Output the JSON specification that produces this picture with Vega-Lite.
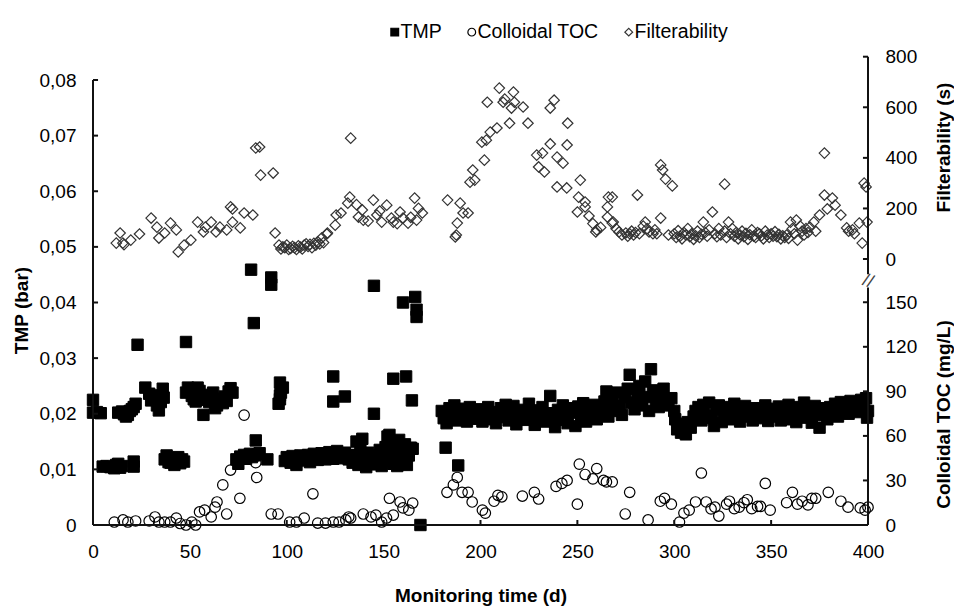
{
"$schema":"https://vega.github.io/schema/vega-lite/v6.json",
"width":775,"height":469,
"autosize":"none",
"padding":{"left":93,"top":56,"right":86,"bottom":90},
"background":"white",
"config":{"view":{"stroke":null},"font":"Liberation Sans",
"axis":{"grid":false,"domain":false,"ticks":false,"labelFont":"Liberation Sans","labelFontSize":19,"labelColor":"black","titleFont":"Liberation Sans","titleFontSize":19,"titleFontWeight":"bold","titleColor":"black","labelPadding":17,"labelFlush":false}},
"datasets":{
"tmp":[
{"s":"TMP","d":0,"v":0.0225},{"s":"TMP","d":0,"v":0.0202},{"s":"TMP","d":2,"v":0.0203},{"s":"TMP","d":4,"v":0.0201},
{"s":"TMP","d":5,"v":0.0105},{"s":"TMP","d":7,"v":0.0106},{"s":"TMP","d":9,"v":0.0104},{"s":"TMP","d":11,"v":0.0102},{"s":"TMP","d":12,"v":0.0108},{"s":"TMP","d":13,"v":0.011},{"s":"TMP","d":14,"v":0.0103},{"s":"TMP","d":15,"v":0.0106},{"s":"TMP","d":21,"v":0.0114},{"s":"TMP","d":21,"v":0.0105},
{"s":"TMP","d":13,"v":0.0202},{"s":"TMP","d":15,"v":0.0204},{"s":"TMP","d":16,"v":0.0199},{"s":"TMP","d":17,"v":0.0195},{"s":"TMP","d":18,"v":0.0198},{"s":"TMP","d":19,"v":0.0205},{"s":"TMP","d":20,"v":0.0208},{"s":"TMP","d":21,"v":0.0212},{"s":"TMP","d":22,"v":0.0218},{"s":"TMP","d":23,"v":0.0324},
{"s":"TMP","d":27,"v":0.0247},{"s":"TMP","d":29,"v":0.0236},{"s":"TMP","d":30,"v":0.0224},{"s":"TMP","d":32,"v":0.0233},{"s":"TMP","d":33,"v":0.0215},{"s":"TMP","d":34,"v":0.0206},{"s":"TMP","d":35,"v":0.0221},{"s":"TMP","d":36,"v":0.0245},{"s":"TMP","d":36.5,"v":0.0229},
{"s":"TMP","d":37,"v":0.0118},{"s":"TMP","d":38,"v":0.0125},{"s":"TMP","d":39,"v":0.0113},{"s":"TMP","d":40,"v":0.0112},{"s":"TMP","d":41,"v":0.012},{"s":"TMP","d":42,"v":0.0108},{"s":"TMP","d":43,"v":0.0116},{"s":"TMP","d":44,"v":0.0122},{"s":"TMP","d":45,"v":0.0111},{"s":"TMP","d":46,"v":0.0118},{"s":"TMP","d":47,"v":0.0114},
{"s":"TMP","d":48,"v":0.0329},
{"s":"TMP","d":48,"v":0.0238},{"s":"TMP","d":49,"v":0.0247},{"s":"TMP","d":50,"v":0.024},{"s":"TMP","d":51,"v":0.0232},{"s":"TMP","d":52,"v":0.0226},{"s":"TMP","d":53,"v":0.0222},{"s":"TMP","d":54,"v":0.0247},{"s":"TMP","d":55,"v":0.0241},{"s":"TMP","d":56,"v":0.023},{"s":"TMP","d":57,"v":0.0198},{"s":"TMP","d":58,"v":0.0225},{"s":"TMP","d":59,"v":0.0234},{"s":"TMP","d":60,"v":0.0221},{"s":"TMP","d":61,"v":0.0228},{"s":"TMP","d":62,"v":0.0238},{"s":"TMP","d":63,"v":0.021},{"s":"TMP","d":64,"v":0.0215},{"s":"TMP","d":65,"v":0.0227},{"s":"TMP","d":66,"v":0.0222},{"s":"TMP","d":67,"v":0.0219},{"s":"TMP","d":68,"v":0.0231},{"s":"TMP","d":69,"v":0.0223},{"s":"TMP","d":70,"v":0.024},{"s":"TMP","d":71,"v":0.0246},{"s":"TMP","d":72,"v":0.0238},
{"s":"TMP","d":74,"v":0.0118},{"s":"TMP","d":75,"v":0.011},{"s":"TMP","d":76,"v":0.0123},{"s":"TMP","d":77,"v":0.0121},{"s":"TMP","d":78,"v":0.0126},{"s":"TMP","d":79,"v":0.0119},{"s":"TMP","d":80,"v":0.0124},{"s":"TMP","d":81,"v":0.0128},{"s":"TMP","d":82,"v":0.0122},{"s":"TMP","d":83,"v":0.0125},{"s":"TMP","d":84,"v":0.0152},{"s":"TMP","d":85,"v":0.0127},{"s":"TMP","d":86,"v":0.0129},{"s":"TMP","d":90,"v":0.0118},
{"s":"TMP","d":81.6,"v":0.0459},{"s":"TMP","d":83,"v":0.0363},{"s":"TMP","d":92,"v":0.0445},{"s":"TMP","d":92,"v":0.0432},
{"s":"TMP","d":95.8,"v":0.0218},{"s":"TMP","d":96.5,"v":0.0226},{"s":"TMP","d":96.5,"v":0.0233},{"s":"TMP","d":97,"v":0.0238},{"s":"TMP","d":98,"v":0.0247},{"s":"TMP","d":96.5,"v":0.0256},
{"s":"TMP","d":99,"v":0.0115},{"s":"TMP","d":100,"v":0.0122},{"s":"TMP","d":101,"v":0.0118},{"s":"TMP","d":102,"v":0.0112},{"s":"TMP","d":103,"v":0.0124},{"s":"TMP","d":104,"v":0.0119},{"s":"TMP","d":105,"v":0.0108},{"s":"TMP","d":106,"v":0.0121},{"s":"TMP","d":107,"v":0.0125},{"s":"TMP","d":108,"v":0.0116},{"s":"TMP","d":109,"v":0.0122},{"s":"TMP","d":110,"v":0.0119},{"s":"TMP","d":111,"v":0.0126},{"s":"TMP","d":112,"v":0.0113},{"s":"TMP","d":113,"v":0.0124},{"s":"TMP","d":114,"v":0.0128},{"s":"TMP","d":115,"v":0.012},{"s":"TMP","d":116,"v":0.0117},{"s":"TMP","d":117,"v":0.0125},{"s":"TMP","d":118,"v":0.0129},{"s":"TMP","d":119,"v":0.0121},{"s":"TMP","d":120,"v":0.0118},{"s":"TMP","d":121,"v":0.0127},{"s":"TMP","d":122,"v":0.0131},{"s":"TMP","d":123,"v":0.0123},{"s":"TMP","d":124,"v":0.0119},{"s":"TMP","d":125,"v":0.0128},{"s":"TMP","d":126,"v":0.0133},{"s":"TMP","d":127,"v":0.0124},{"s":"TMP","d":128,"v":0.012},{"s":"TMP","d":129,"v":0.0126},{"s":"TMP","d":130,"v":0.013},{"s":"TMP","d":131,"v":0.0122},{"s":"TMP","d":132,"v":0.0118},{"s":"TMP","d":133,"v":0.0125},
{"s":"TMP","d":124,"v":0.0267},{"s":"TMP","d":124,"v":0.0222},{"s":"TMP","d":130,"v":0.0231},
{"s":"TMP","d":134,"v":0.0112},{"s":"TMP","d":135,"v":0.0126},{"s":"TMP","d":136,"v":0.015},{"s":"TMP","d":137,"v":0.0108},{"s":"TMP","d":138,"v":0.0135},{"s":"TMP","d":139,"v":0.0155},{"s":"TMP","d":140,"v":0.0118},{"s":"TMP","d":141,"v":0.0104},{"s":"TMP","d":142,"v":0.013},{"s":"TMP","d":143,"v":0.0112},{"s":"TMP","d":144,"v":0.0121},{"s":"TMP","d":145,"v":0.02},{"s":"TMP","d":145,"v":0.043},{"s":"TMP","d":146,"v":0.0109},{"s":"TMP","d":147,"v":0.0125},{"s":"TMP","d":148,"v":0.0135},{"s":"TMP","d":149,"v":0.0106},{"s":"TMP","d":150,"v":0.0116},{"s":"TMP","d":151,"v":0.014},{"s":"TMP","d":152,"v":0.0159},{"s":"TMP","d":153,"v":0.0162},{"s":"TMP","d":154,"v":0.0125},{"s":"TMP","d":155,"v":0.0263},{"s":"TMP","d":155,"v":0.011},{"s":"TMP","d":156,"v":0.0142},{"s":"TMP","d":157,"v":0.0106},{"s":"TMP","d":158,"v":0.0153},{"s":"TMP","d":159,"v":0.0128},{"s":"TMP","d":160,"v":0.04},{"s":"TMP","d":160,"v":0.0115},{"s":"TMP","d":161,"v":0.0145},{"s":"TMP","d":161.6,"v":0.0267},{"s":"TMP","d":162,"v":0.0108},{"s":"TMP","d":163,"v":0.0125},{"s":"TMP","d":164,"v":0.0139},{"s":"TMP","d":164.6,"v":0.0224},{"s":"TMP","d":165,"v":0.0137},{"s":"TMP","d":166.3,"v":0.041},{"s":"TMP","d":167,"v":0.0387},{"s":"TMP","d":167,"v":0.0374},{"s":"TMP","d":169,"v":0},
{"s":"TMP","d":182,"v":0.0139},{"s":"TMP","d":188.5,"v":0.0107},
{"s":"TMP","d":180,"v":0.0205},{"s":"TMP","d":181,"v":0.0192},{"s":"TMP","d":182.5,"v":0.0183},{"s":"TMP","d":184,"v":0.021},{"s":"TMP","d":185,"v":0.0198},{"s":"TMP","d":186.5,"v":0.0215},{"s":"TMP","d":188,"v":0.0188},{"s":"TMP","d":189,"v":0.0201},{"s":"TMP","d":190.5,"v":0.0209},{"s":"TMP","d":192,"v":0.0194},{"s":"TMP","d":193,"v":0.0186},{"s":"TMP","d":194.5,"v":0.0212},{"s":"TMP","d":196,"v":0.0199},{"s":"TMP","d":197,"v":0.0191},{"s":"TMP","d":198.5,"v":0.0205},{"s":"TMP","d":200,"v":0.0208},{"s":"TMP","d":201,"v":0.0186},{"s":"TMP","d":202.5,"v":0.0196},{"s":"TMP","d":204,"v":0.0212},{"s":"TMP","d":205,"v":0.019},{"s":"TMP","d":206.5,"v":0.0203},{"s":"TMP","d":208,"v":0.0183},{"s":"TMP","d":209,"v":0.0197},{"s":"TMP","d":210.5,"v":0.021},{"s":"TMP","d":212,"v":0.0194},{"s":"TMP","d":213,"v":0.0216},{"s":"TMP","d":214.5,"v":0.0188},{"s":"TMP","d":216,"v":0.0201},{"s":"TMP","d":217,"v":0.0214},{"s":"TMP","d":218.5,"v":0.0181},{"s":"TMP","d":220,"v":0.0196},{"s":"TMP","d":221,"v":0.0207},{"s":"TMP","d":222.5,"v":0.0189},{"s":"TMP","d":224,"v":0.0203},{"s":"TMP","d":225,"v":0.0218},{"s":"TMP","d":226.5,"v":0.0192},{"s":"TMP","d":228,"v":0.018},{"s":"TMP","d":229,"v":0.0206},{"s":"TMP","d":230.5,"v":0.0198},{"s":"TMP","d":232,"v":0.0212},{"s":"TMP","d":233,"v":0.0186},{"s":"TMP","d":234.5,"v":0.0201},{"s":"TMP","d":236,"v":0.0232},{"s":"TMP","d":237,"v":0.0194},{"s":"TMP","d":238.5,"v":0.0176},{"s":"TMP","d":240,"v":0.0207},{"s":"TMP","d":241,"v":0.0189},{"s":"TMP","d":242.5,"v":0.0215},{"s":"TMP","d":244,"v":0.0197},{"s":"TMP","d":245,"v":0.0183},{"s":"TMP","d":246.5,"v":0.021},{"s":"TMP","d":248,"v":0.0202},{"s":"TMP","d":249,"v":0.0178},{"s":"TMP","d":250.5,"v":0.0213},{"s":"TMP","d":252,"v":0.0193},{"s":"TMP","d":253,"v":0.0219},{"s":"TMP","d":254.5,"v":0.0186},{"s":"TMP","d":256,"v":0.0205},{"s":"TMP","d":257,"v":0.0196},{"s":"TMP","d":258.5,"v":0.0216},{"s":"TMP","d":260,"v":0.019},{"s":"TMP","d":261,"v":0.0208},{"s":"TMP","d":262.5,"v":0.0199},{"s":"TMP","d":264,"v":0.0222},{"s":"TMP","d":265,"v":0.024},{"s":"TMP","d":266,"v":0.0195},{"s":"TMP","d":267,"v":0.0212},
{"s":"TMP","d":268,"v":0.0225},{"s":"TMP","d":269,"v":0.0205},{"s":"TMP","d":270.5,"v":0.0238},{"s":"TMP","d":272,"v":0.0215},{"s":"TMP","d":273,"v":0.0198},{"s":"TMP","d":274.5,"v":0.023},{"s":"TMP","d":276,"v":0.0245},{"s":"TMP","d":277,"v":0.027},{"s":"TMP","d":278,"v":0.022},{"s":"TMP","d":279.5,"v":0.0208},{"s":"TMP","d":281,"v":0.0235},{"s":"TMP","d":282,"v":0.025},{"s":"TMP","d":283.5,"v":0.0215},{"s":"TMP","d":285,"v":0.0258},{"s":"TMP","d":286,"v":0.023},{"s":"TMP","d":287,"v":0.0205},{"s":"TMP","d":288,"v":0.028},{"s":"TMP","d":289,"v":0.0242},{"s":"TMP","d":290.5,"v":0.0222},{"s":"TMP","d":292,"v":0.0212},{"s":"TMP","d":293,"v":0.0238},{"s":"TMP","d":294.5,"v":0.0245},{"s":"TMP","d":296,"v":0.0225},{"s":"TMP","d":297,"v":0.0215},{"s":"TMP","d":298.5,"v":0.0228},{"s":"TMP","d":300,"v":0.0205},
{"s":"TMP","d":300.5,"v":0.019},{"s":"TMP","d":301.5,"v":0.0172},{"s":"TMP","d":302.5,"v":0.0182},{"s":"TMP","d":303.5,"v":0.0166},{"s":"TMP","d":305,"v":0.0178},{"s":"TMP","d":306,"v":0.0163},{"s":"TMP","d":307,"v":0.0185},{"s":"TMP","d":308.5,"v":0.0175},{"s":"TMP","d":310,"v":0.0195},
{"s":"TMP","d":311,"v":0.0205},{"s":"TMP","d":312.5,"v":0.0212},{"s":"TMP","d":314,"v":0.0188},{"s":"TMP","d":315,"v":0.0216},{"s":"TMP","d":316.5,"v":0.0198},{"s":"TMP","d":318,"v":0.022},{"s":"TMP","d":319,"v":0.0192},{"s":"TMP","d":320.5,"v":0.0178},{"s":"TMP","d":322,"v":0.0207},{"s":"TMP","d":323,"v":0.0215},{"s":"TMP","d":324.5,"v":0.0185},{"s":"TMP","d":326,"v":0.02},{"s":"TMP","d":327,"v":0.0212},{"s":"TMP","d":328.5,"v":0.019},{"s":"TMP","d":330,"v":0.0205},{"s":"TMP","d":331,"v":0.0218},{"s":"TMP","d":332.5,"v":0.0196},{"s":"TMP","d":334,"v":0.0186},{"s":"TMP","d":335,"v":0.0208},{"s":"TMP","d":336.5,"v":0.0214},{"s":"TMP","d":338,"v":0.0195},{"s":"TMP","d":339,"v":0.0203},{"s":"TMP","d":340.5,"v":0.0188},{"s":"TMP","d":342,"v":0.021},{"s":"TMP","d":343,"v":0.0198},{"s":"TMP","d":344.5,"v":0.0206},{"s":"TMP","d":346,"v":0.0192},{"s":"TMP","d":347,"v":0.0215},{"s":"TMP","d":348.5,"v":0.0187},{"s":"TMP","d":350,"v":0.02},{"s":"TMP","d":351,"v":0.0209},{"s":"TMP","d":352.5,"v":0.0195},{"s":"TMP","d":354,"v":0.0213},{"s":"TMP","d":355,"v":0.0188},{"s":"TMP","d":356.5,"v":0.0204},{"s":"TMP","d":358,"v":0.0197},{"s":"TMP","d":359,"v":0.0216},{"s":"TMP","d":360.5,"v":0.019},{"s":"TMP","d":362,"v":0.0206},{"s":"TMP","d":363,"v":0.0185},{"s":"TMP","d":364.5,"v":0.0212},{"s":"TMP","d":366,"v":0.0199},{"s":"TMP","d":367,"v":0.022},{"s":"TMP","d":368.5,"v":0.0193},{"s":"TMP","d":370,"v":0.0208},{"s":"TMP","d":371,"v":0.0184},{"s":"TMP","d":372.5,"v":0.0214},{"s":"TMP","d":374,"v":0.0198},{"s":"TMP","d":375,"v":0.0175},{"s":"TMP","d":376.5,"v":0.021},{"s":"TMP","d":378,"v":0.0203},{"s":"TMP","d":379,"v":0.019},{"s":"TMP","d":380.5,"v":0.0212},{"s":"TMP","d":382,"v":0.02},{"s":"TMP","d":383,"v":0.0218},{"s":"TMP","d":384.5,"v":0.0195},{"s":"TMP","d":386,"v":0.0221},{"s":"TMP","d":387,"v":0.0207},{"s":"TMP","d":388.5,"v":0.0215},{"s":"TMP","d":390,"v":0.02},{"s":"TMP","d":391,"v":0.0223},{"s":"TMP","d":392.5,"v":0.021},{"s":"TMP","d":394,"v":0.0218},{"s":"TMP","d":395,"v":0.0203},{"s":"TMP","d":396.5,"v":0.0225},{"s":"TMP","d":398,"v":0.0212},{"s":"TMP","d":399,"v":0.0228},{"s":"TMP","d":399.5,"v":0.0193},{"s":"TMP","d":400,"v":0.0205}
],
"toc":[
{"s":"Colloidal TOC","d":11,"v":2},{"s":"Colloidal TOC","d":15.5,"v":3.4},{"s":"Colloidal TOC","d":18,"v":2},{"s":"Colloidal TOC","d":22,"v":2.7},{"s":"Colloidal TOC","d":29,"v":2.7},{"s":"Colloidal TOC","d":32,"v":5.4},{"s":"Colloidal TOC","d":34,"v":2},{"s":"Colloidal TOC","d":37,"v":2},{"s":"Colloidal TOC","d":40,"v":2},{"s":"Colloidal TOC","d":43,"v":4.7},{"s":"Colloidal TOC","d":45,"v":1},{"s":"Colloidal TOC","d":48,"v":0},{"s":"Colloidal TOC","d":51,"v":2},{"s":"Colloidal TOC","d":53,"v":0},{"s":"Colloidal TOC","d":55,"v":8.8},{"s":"Colloidal TOC","d":57.6,"v":10},{"s":"Colloidal TOC","d":61,"v":5.4},{"s":"Colloidal TOC","d":63,"v":12},{"s":"Colloidal TOC","d":64,"v":15.5},{"s":"Colloidal TOC","d":67,"v":27},{"s":"Colloidal TOC","d":69,"v":7.4},{"s":"Colloidal TOC","d":71,"v":37},{"s":"Colloidal TOC","d":75.8,"v":18},{"s":"Colloidal TOC","d":78,"v":74},{"s":"Colloidal TOC","d":84,"v":42},{"s":"Colloidal TOC","d":84.5,"v":32},{"s":"Colloidal TOC","d":92,"v":7.4},{"s":"Colloidal TOC","d":95.5,"v":7.4},{"s":"Colloidal TOC","d":101.5,"v":2},{"s":"Colloidal TOC","d":105,"v":2},{"s":"Colloidal TOC","d":109,"v":4.7},{"s":"Colloidal TOC","d":113.5,"v":21},{"s":"Colloidal TOC","d":116,"v":1.3},{"s":"Colloidal TOC","d":120,"v":1.3},{"s":"Colloidal TOC","d":124,"v":2},{"s":"Colloidal TOC","d":127,"v":2},{"s":"Colloidal TOC","d":130.5,"v":3.4},{"s":"Colloidal TOC","d":132,"v":5.4},{"s":"Colloidal TOC","d":133,"v":4.7},{"s":"Colloidal TOC","d":139.5,"v":7.4},{"s":"Colloidal TOC","d":143.5,"v":5.4},{"s":"Colloidal TOC","d":146,"v":6.7},{"s":"Colloidal TOC","d":149,"v":2},{"s":"Colloidal TOC","d":151.5,"v":4.7},{"s":"Colloidal TOC","d":153,"v":18},{"s":"Colloidal TOC","d":155,"v":6.7},{"s":"Colloidal TOC","d":158.5,"v":15.5},{"s":"Colloidal TOC","d":160,"v":11.5},{"s":"Colloidal TOC","d":163,"v":10},{"s":"Colloidal TOC","d":165,"v":14.8},
{"s":"Colloidal TOC","d":182.7,"v":22},{"s":"Colloidal TOC","d":186,"v":27},{"s":"Colloidal TOC","d":188,"v":32},{"s":"Colloidal TOC","d":190.5,"v":22},{"s":"Colloidal TOC","d":193.6,"v":22},{"s":"Colloidal TOC","d":195.7,"v":15.5},{"s":"Colloidal TOC","d":201,"v":10},{"s":"Colloidal TOC","d":202.5,"v":8},{"s":"Colloidal TOC","d":207,"v":16},{"s":"Colloidal TOC","d":209,"v":20},{"s":"Colloidal TOC","d":211,"v":19},{"s":"Colloidal TOC","d":221.6,"v":19.5},{"s":"Colloidal TOC","d":227.8,"v":22},{"s":"Colloidal TOC","d":230,"v":17.5},{"s":"Colloidal TOC","d":239,"v":26},{"s":"Colloidal TOC","d":242,"v":28},{"s":"Colloidal TOC","d":244.7,"v":30},{"s":"Colloidal TOC","d":250,"v":14},{"s":"Colloidal TOC","d":251,"v":41},{"s":"Colloidal TOC","d":254,"v":34},{"s":"Colloidal TOC","d":258,"v":31},{"s":"Colloidal TOC","d":260,"v":38},{"s":"Colloidal TOC","d":263.5,"v":30},{"s":"Colloidal TOC","d":265,"v":29},{"s":"Colloidal TOC","d":268,"v":29},
{"s":"Colloidal TOC","d":274.7,"v":7.4},{"s":"Colloidal TOC","d":277,"v":22},{"s":"Colloidal TOC","d":286.5,"v":3.4},{"s":"Colloidal TOC","d":292.8,"v":16},{"s":"Colloidal TOC","d":295,"v":18},{"s":"Colloidal TOC","d":298.5,"v":14},{"s":"Colloidal TOC","d":302.7,"v":2},{"s":"Colloidal TOC","d":305,"v":8},{"s":"Colloidal TOC","d":307.7,"v":10},{"s":"Colloidal TOC","d":311,"v":15.5},{"s":"Colloidal TOC","d":314,"v":35},{"s":"Colloidal TOC","d":316.5,"v":15.5},{"s":"Colloidal TOC","d":319,"v":10.8},{"s":"Colloidal TOC","d":321,"v":12},{"s":"Colloidal TOC","d":323,"v":6},{"s":"Colloidal TOC","d":327,"v":14},{"s":"Colloidal TOC","d":328.5,"v":16},{"s":"Colloidal TOC","d":331,"v":11},{"s":"Colloidal TOC","d":333.5,"v":12},{"s":"Colloidal TOC","d":336,"v":15},{"s":"Colloidal TOC","d":337.7,"v":17},{"s":"Colloidal TOC","d":340,"v":11},{"s":"Colloidal TOC","d":343,"v":12.5},{"s":"Colloidal TOC","d":344.5,"v":12.5},{"s":"Colloidal TOC","d":347,"v":28},{"s":"Colloidal TOC","d":349.5,"v":10},{"s":"Colloidal TOC","d":358,"v":15},{"s":"Colloidal TOC","d":361,"v":22},{"s":"Colloidal TOC","d":363.6,"v":14},{"s":"Colloidal TOC","d":366,"v":16},{"s":"Colloidal TOC","d":369,"v":13.5},{"s":"Colloidal TOC","d":371,"v":18},{"s":"Colloidal TOC","d":373,"v":18},{"s":"Colloidal TOC","d":379.5,"v":22},{"s":"Colloidal TOC","d":386,"v":16},{"s":"Colloidal TOC","d":389.7,"v":12},{"s":"Colloidal TOC","d":396,"v":11.5},{"s":"Colloidal TOC","d":398.5,"v":10},{"s":"Colloidal TOC","d":400,"v":12}
],
"filt":[
{"s":"Filterability","d":12,"v":63},{"s":"Filterability","d":14,"v":103},{"s":"Filterability","d":15.4,"v":63},{"s":"Filterability","d":16,"v":57},{"s":"Filterability","d":19.5,"v":75},{"s":"Filterability","d":24,"v":99},{"s":"Filterability","d":30,"v":162},{"s":"Filterability","d":33,"v":126},{"s":"Filterability","d":34,"v":83},{"s":"Filterability","d":37,"v":103},{"s":"Filterability","d":40,"v":142},{"s":"Filterability","d":43,"v":115},{"s":"Filterability","d":44,"v":28},{"s":"Filterability","d":47,"v":55},{"s":"Filterability","d":50.5,"v":75},{"s":"Filterability","d":54,"v":146},{"s":"Filterability","d":57,"v":107},{"s":"Filterability","d":58,"v":126},{"s":"Filterability","d":61,"v":146},{"s":"Filterability","d":63.5,"v":107},{"s":"Filterability","d":65.5,"v":126},{"s":"Filterability","d":69,"v":115},{"s":"Filterability","d":71,"v":206},{"s":"Filterability","d":72,"v":198},{"s":"Filterability","d":72,"v":146},{"s":"Filterability","d":76,"v":123},{"s":"Filterability","d":78,"v":182},{"s":"Filterability","d":82.5,"v":174},{"s":"Filterability","d":84,"v":439},{"s":"Filterability","d":86,"v":443},{"s":"Filterability","d":86.5,"v":332},{"s":"Filterability","d":93,"v":340},{"s":"Filterability","d":94,"v":103},
{"s":"Filterability","d":96,"v":55},{"s":"Filterability","d":97,"v":40},{"s":"Filterability","d":98,"v":48},{"s":"Filterability","d":99,"v":45},{"s":"Filterability","d":100,"v":55},{"s":"Filterability","d":101,"v":38},{"s":"Filterability","d":102,"v":42},{"s":"Filterability","d":103,"v":50},{"s":"Filterability","d":104,"v":45},{"s":"Filterability","d":105,"v":38},{"s":"Filterability","d":106,"v":52},{"s":"Filterability","d":107,"v":47},{"s":"Filterability","d":108,"v":40},{"s":"Filterability","d":109,"v":55},{"s":"Filterability","d":110,"v":60},{"s":"Filterability","d":111,"v":50},{"s":"Filterability","d":112,"v":58},{"s":"Filterability","d":113,"v":45},{"s":"Filterability","d":114,"v":62},{"s":"Filterability","d":115,"v":55},{"s":"Filterability","d":116,"v":68},{"s":"Filterability","d":117,"v":60},{"s":"Filterability","d":118,"v":83},{"s":"Filterability","d":119,"v":65},{"s":"Filterability","d":120.7,"v":99},
{"s":"Filterability","d":121,"v":103},{"s":"Filterability","d":125,"v":134},{"s":"Filterability","d":125.5,"v":174},{"s":"Filterability","d":128,"v":182},{"s":"Filterability","d":131.5,"v":221},{"s":"Filterability","d":132.5,"v":245},{"s":"Filterability","d":133,"v":478},
{"s":"Filterability","d":136,"v":215},{"s":"Filterability","d":137,"v":166},{"s":"Filterability","d":139,"v":194},{"s":"Filterability","d":139.5,"v":154},{"s":"Filterability","d":142,"v":150},{"s":"Filterability","d":144.7,"v":233},{"s":"Filterability","d":146.5,"v":174},{"s":"Filterability","d":148,"v":190},{"s":"Filterability","d":149,"v":146},{"s":"Filterability","d":151.6,"v":213},{"s":"Filterability","d":154,"v":162},{"s":"Filterability","d":155,"v":146},{"s":"Filterability","d":157,"v":140},{"s":"Filterability","d":158.5,"v":186},{"s":"Filterability","d":160,"v":162},{"s":"Filterability","d":162.6,"v":142},{"s":"Filterability","d":164,"v":165},{"s":"Filterability","d":166,"v":241},{"s":"Filterability","d":167,"v":154},{"s":"Filterability","d":168,"v":200},{"s":"Filterability","d":170,"v":182},
{"s":"Filterability","d":183,"v":233},{"s":"Filterability","d":187,"v":87},{"s":"Filterability","d":187.5,"v":95},{"s":"Filterability","d":188,"v":142},{"s":"Filterability","d":189.5,"v":221},{"s":"Filterability","d":191,"v":182},{"s":"Filterability","d":193.6,"v":182},{"s":"Filterability","d":194.6,"v":304},{"s":"Filterability","d":196,"v":352},{"s":"Filterability","d":197,"v":312},{"s":"Filterability","d":200.7,"v":462},{"s":"Filterability","d":202,"v":391},{"s":"Filterability","d":203,"v":470},{"s":"Filterability","d":203.5,"v":620},{"s":"Filterability","d":205,"v":502},{"s":"Filterability","d":208.5,"v":518},{"s":"Filterability","d":209.7,"v":676},{"s":"Filterability","d":211.7,"v":620},{"s":"Filterability","d":212.5,"v":632},{"s":"Filterability","d":215,"v":537},{"s":"Filterability","d":216,"v":597},{"s":"Filterability","d":217,"v":660},{"s":"Filterability","d":217.5,"v":620},{"s":"Filterability","d":222,"v":601},{"s":"Filterability","d":224.5,"v":537},{"s":"Filterability","d":229,"v":411},{"s":"Filterability","d":230,"v":364},{"s":"Filterability","d":232,"v":419},{"s":"Filterability","d":233,"v":344},{"s":"Filterability","d":236,"v":455},{"s":"Filterability","d":236,"v":597},{"s":"Filterability","d":238,"v":628},{"s":"Filterability","d":239.5,"v":403},{"s":"Filterability","d":239.5,"v":285},{"s":"Filterability","d":242.6,"v":379},{"s":"Filterability","d":244.5,"v":281},{"s":"Filterability","d":244.7,"v":451},{"s":"Filterability","d":245,"v":537},
{"s":"Filterability","d":250,"v":186},{"s":"Filterability","d":250.6,"v":245},{"s":"Filterability","d":251.5,"v":312},{"s":"Filterability","d":254,"v":206},{"s":"Filterability","d":254,"v":225},{"s":"Filterability","d":256,"v":170},{"s":"Filterability","d":258,"v":140},{"s":"Filterability","d":259.5,"v":107},{"s":"Filterability","d":260,"v":115},{"s":"Filterability","d":262,"v":125},{"s":"Filterability","d":265.5,"v":206},{"s":"Filterability","d":265.5,"v":166},{"s":"Filterability","d":266,"v":245},{"s":"Filterability","d":268,"v":142},
{"s":"Filterability","d":268,"v":245},{"s":"Filterability","d":268.5,"v":146},{"s":"Filterability","d":270,"v":120},{"s":"Filterability","d":271.5,"v":107},{"s":"Filterability","d":273,"v":95},{"s":"Filterability","d":275,"v":103},{"s":"Filterability","d":276,"v":90},{"s":"Filterability","d":277,"v":100},{"s":"Filterability","d":278,"v":110},{"s":"Filterability","d":279,"v":95},{"s":"Filterability","d":280,"v":105},{"s":"Filterability","d":281,"v":253},{"s":"Filterability","d":282,"v":100},{"s":"Filterability","d":284,"v":130},{"s":"Filterability","d":285,"v":146},{"s":"Filterability","d":286,"v":120},{"s":"Filterability","d":287,"v":107},{"s":"Filterability","d":289,"v":100},{"s":"Filterability","d":290,"v":115},{"s":"Filterability","d":291,"v":100},{"s":"Filterability","d":293,"v":162},{"s":"Filterability","d":293,"v":372},{"s":"Filterability","d":294,"v":352},{"s":"Filterability","d":295.5,"v":316},{"s":"Filterability","d":297,"v":95},{"s":"Filterability","d":299,"v":289},
{"s":"Filterability","d":300,"v":100},{"s":"Filterability","d":301,"v":85},{"s":"Filterability","d":302,"v":112},{"s":"Filterability","d":303,"v":90},{"s":"Filterability","d":304,"v":80},{"s":"Filterability","d":305,"v":105},{"s":"Filterability","d":306,"v":95},{"s":"Filterability","d":307,"v":120},{"s":"Filterability","d":308,"v":88},{"s":"Filterability","d":309,"v":100},{"s":"Filterability","d":310,"v":78},{"s":"Filterability","d":311,"v":92},{"s":"Filterability","d":312,"v":110},{"s":"Filterability","d":313,"v":85},{"s":"Filterability","d":314,"v":98},{"s":"Filterability","d":315,"v":146},{"s":"Filterability","d":316,"v":105},{"s":"Filterability","d":317,"v":90},{"s":"Filterability","d":318,"v":115},{"s":"Filterability","d":319.7,"v":186},{"s":"Filterability","d":321,"v":100},{"s":"Filterability","d":322,"v":88},{"s":"Filterability","d":323,"v":120},{"s":"Filterability","d":324,"v":95},{"s":"Filterability","d":326,"v":296},{"s":"Filterability","d":326,"v":110},{"s":"Filterability","d":327,"v":85},{"s":"Filterability","d":328,"v":146},{"s":"Filterability","d":329,"v":100},{"s":"Filterability","d":330,"v":120},{"s":"Filterability","d":331,"v":90},{"s":"Filterability","d":332,"v":105},{"s":"Filterability","d":333,"v":80},{"s":"Filterability","d":334,"v":95},{"s":"Filterability","d":335,"v":110},{"s":"Filterability","d":336,"v":88},{"s":"Filterability","d":337,"v":102},{"s":"Filterability","d":338,"v":78},{"s":"Filterability","d":339,"v":96},{"s":"Filterability","d":340,"v":115},{"s":"Filterability","d":341,"v":90},{"s":"Filterability","d":342,"v":85},{"s":"Filterability","d":343,"v":105},{"s":"Filterability","d":344,"v":100},{"s":"Filterability","d":345,"v":92},{"s":"Filterability","d":346,"v":80},{"s":"Filterability","d":347,"v":110},{"s":"Filterability","d":348,"v":95},{"s":"Filterability","d":349,"v":85},{"s":"Filterability","d":350,"v":100},{"s":"Filterability","d":351,"v":90},{"s":"Filterability","d":352,"v":108},{"s":"Filterability","d":353,"v":88},{"s":"Filterability","d":354,"v":98},{"s":"Filterability","d":355,"v":80},{"s":"Filterability","d":356,"v":92},{"s":"Filterability","d":357,"v":85},{"s":"Filterability","d":358,"v":95},{"s":"Filterability","d":359,"v":82},{"s":"Filterability","d":360,"v":146},{"s":"Filterability","d":361,"v":120},{"s":"Filterability","d":362,"v":100},{"s":"Filterability","d":363,"v":154},{"s":"Filterability","d":363.6,"v":75},{"s":"Filterability","d":365,"v":130},{"s":"Filterability","d":366,"v":110},{"s":"Filterability","d":367,"v":95},{"s":"Filterability","d":368,"v":120},{"s":"Filterability","d":369,"v":105},{"s":"Filterability","d":370,"v":126},{"s":"Filterability","d":372,"v":146},{"s":"Filterability","d":373,"v":110},{"s":"Filterability","d":375,"v":174},{"s":"Filterability","d":377.5,"v":419},{"s":"Filterability","d":377.5,"v":253},{"s":"Filterability","d":379,"v":198},{"s":"Filterability","d":381.6,"v":241},{"s":"Filterability","d":383,"v":213},{"s":"Filterability","d":386,"v":174},{"s":"Filterability","d":389,"v":123},{"s":"Filterability","d":390,"v":110},{"s":"Filterability","d":392,"v":115},{"s":"Filterability","d":393,"v":100},{"s":"Filterability","d":395.5,"v":142},{"s":"Filterability","d":397,"v":63},{"s":"Filterability","d":398,"v":300},{"s":"Filterability","d":399,"v":285},{"s":"Filterability","d":399.5,"v":146}
],
"tmph":[{"d":0,"d2":400,"v":0},{"d":0,"d2":2.6,"v":0.01},{"d":0,"d2":2.6,"v":0.02},{"d":0,"d2":2.6,"v":0.03},{"d":0,"d2":2.6,"v":0.04},{"d":0,"d2":2.6,"v":0.05},{"d":0,"d2":2.6,"v":0.06},{"d":0,"d2":2.6,"v":0.07},{"d":0,"d2":2.6,"v":0.08}],
"tmpv":[{"d":0,"v":0,"v2":0.08},{"d":50,"v":0,"v2":0.0009},{"d":100,"v":0,"v2":0.0009},{"d":150,"v":0,"v2":0.0009},{"d":200,"v":0,"v2":0.0009},{"d":250,"v":0,"v2":0.0009},{"d":300,"v":0,"v2":0.0009},{"d":350,"v":0,"v2":0.0009}],
"filth":[{"d":397.4,"d2":400,"v":0},{"d":397.4,"d2":400,"v":200},{"d":397.4,"d2":400,"v":400},{"d":397.4,"d2":400,"v":600},{"d":397.4,"d2":400,"v":800}],
"filtv":[{"d":400,"v":-60,"v2":800}],
"toch":[{"d":397.4,"d2":400,"v":30},{"d":397.4,"d2":400,"v":60},{"d":397.4,"d2":400,"v":90},{"d":397.4,"d2":400,"v":120},{"d":397.4,"d2":400,"v":150}],
"tocv":[{"d":400,"v":0,"v2":160}],
"brk":[{"d":400,"v":164,"t":"//"}]
},
"encoding":{"x":{"field":"d","type":"quantitative","scale":{"domain":[0,400],"nice":false},
"axis":{"title":"Monitoring time (d)","values":[0,50,100,150,200,250,300,350,400],"titleY":76,"titleBaseline":"alphabetic"}}},
"layer":[
{"data":{"name":"toc"},
"mark":{"type":"point","strokeWidth":1.2,"size":110,"opacity":1},
"encoding":{
"y":{"field":"v","type":"quantitative","scale":{"domain":[0,160],"range":[469,231.4],"nice":false,"zero":false},
"axis":{"orient":"right","title":"Colloidal TOC (mg/L)","values":[0,30,60,90,120,150],"titleAngle":270,"titleX":81,"titleY":358,"titleAlign":"center","titleBaseline":"alphabetic"}},
"shape":{"field":"s","type":"nominal","scale":{"domain":["TMP","Colloidal TOC","Filterability"],"range":["square","circle","diamond"]},
"legend":{"orient":"none","legendX":292,"legendY":-34,"direction":"horizontal","columns":3,"title":null,"labelFontSize":19.5,"labelFont":"Liberation Sans","labelColor":"black","symbolSize":60,"symbolStrokeWidth":1.2,"labelOffset":-4,"columnPadding":20,"padding":0}},
"fill":{"field":"s","type":"nominal","scale":{"domain":["TMP","Colloidal TOC","Filterability"],"range":["black","transparent","transparent"]},
"legend":{"orient":"none","legendX":292,"legendY":-34,"direction":"horizontal","columns":3,"title":null,"labelFontSize":19.5,"labelFont":"Liberation Sans","labelColor":"black","symbolSize":60,"symbolStrokeWidth":1.2,"labelOffset":-4,"columnPadding":20,"padding":0}},
"stroke":{"field":"s","type":"nominal","scale":{"domain":["TMP","Colloidal TOC","Filterability"],"range":["black","black","#333333"]},
"legend":{"orient":"none","legendX":292,"legendY":-34,"direction":"horizontal","columns":3,"title":null,"labelFontSize":19.5,"labelFont":"Liberation Sans","labelColor":"black","symbolSize":60,"symbolStrokeWidth":1.2,"labelOffset":-4,"columnPadding":20,"padding":0}}}},
{"data":{"name":"tmp"},
"mark":{"type":"point","strokeWidth":1,"size":130,"opacity":1},
"encoding":{
"y":{"field":"v","type":"quantitative","scale":{"domain":[0,0.08],"range":[469,24],"nice":false},
"axis":{"orient":"left","title":"TMP (bar)","values":[0,0.01,0.02,0.03,0.04,0.05,0.06,0.07,0.08],"labelExpr":"datum.value == 0 ? '0' : replace(format(datum.value, '.2f'), '.', ',')","titleAngle":270,"titleX":-66,"titleY":254,"titleAlign":"center","titleBaseline":"alphabetic"}},
"shape":{"field":"s","type":"nominal"},
"fill":{"field":"s","type":"nominal"},
"stroke":{"field":"s","type":"nominal"}}},
{"data":{"name":"filt"},
"mark":{"type":"point","strokeWidth":1.2,"size":110,"opacity":1},
"encoding":{
"y":{"field":"v","type":"quantitative","scale":{"domain":[-60,800],"range":[218.2,0.7],"nice":false,"zero":false},
"axis":{"orient":"right","title":"Filterability (s)","values":[0,200,400,600,800],"titleAngle":270,"titleX":81,"titleY":91,"titleAlign":"center","titleBaseline":"alphabetic"}},
"shape":{"field":"s","type":"nominal"},
"fill":{"field":"s","type":"nominal"},
"stroke":{"field":"s","type":"nominal"}}},
{"data":{"name":"tmph"},"mark":{"type":"rule","color":"#111111","strokeWidth":2},
"encoding":{"x2":{"field":"d2"},"y":{"field":"v","type":"quantitative","scale":{"domain":[0,0.08],"range":[469,24],"nice":false},"axis":null}}},
{"data":{"name":"filth"},"mark":{"type":"rule","color":"#111111","strokeWidth":2},
"encoding":{"x2":{"field":"d2"},"y":{"field":"v","type":"quantitative","scale":{"domain":[-60,800],"range":[218.2,0.7],"nice":false,"zero":false},"axis":null}}},
{"data":{"name":"toch"},"mark":{"type":"rule","color":"#111111","strokeWidth":2},
"encoding":{"x2":{"field":"d2"},"y":{"field":"v","type":"quantitative","scale":{"domain":[0,160],"range":[469,231.4],"nice":false,"zero":false},"axis":null}}},
{"data":{"name":"tmpv"},"mark":{"type":"rule","color":"#111111","strokeWidth":2},
"encoding":{"y":{"field":"v","type":"quantitative","scale":{"domain":[0,0.08],"range":[469,24],"nice":false},"axis":null},"y2":{"field":"v2"}}},
{"data":{"name":"filtv"},"mark":{"type":"rule","color":"#111111","strokeWidth":2},
"encoding":{"y":{"field":"v","type":"quantitative","scale":{"domain":[-60,800],"range":[218.2,0.7],"nice":false,"zero":false},"axis":null},"y2":{"field":"v2"}}},
{"data":{"name":"tocv"},"mark":{"type":"rule","color":"#111111","strokeWidth":2},
"encoding":{"y":{"field":"v","type":"quantitative","scale":{"domain":[0,160],"range":[469,231.4],"nice":false,"zero":false},"axis":null},"y2":{"field":"v2"}}},
{"data":{"name":"brk"},
"mark":{"type":"text","fontSize":18,"color":"#444444","align":"center","baseline":"middle","angle":20},
"encoding":{
"y":{"field":"v","type":"quantitative","scale":{"domain":[0,160],"range":[469,231.4],"nice":false,"zero":false},"axis":null},
"text":{"field":"t"}}}
],
"resolve":{"scale":{"y":"independent"}}
}
